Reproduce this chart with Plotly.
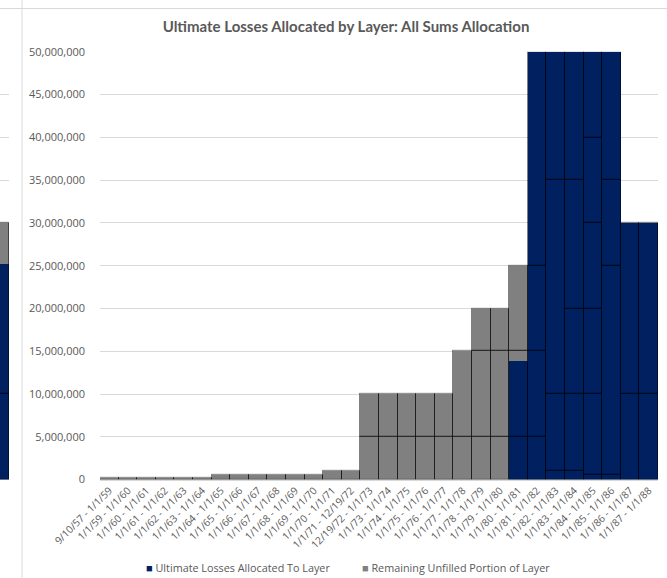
import plotly.graph_objects as go

# Loss periods (x categories)
periods = [
    "9/10/57 - 1/1/59", "1/1/59 - 1/1/60", "1/1/60 - 1/1/61", "1/1/61 - 1/1/62",
    "1/1/62 - 1/1/63", "1/1/63 - 1/1/64", "1/1/64 - 1/1/65", "1/1/65 - 1/1/66",
    "1/1/66 - 1/1/67", "1/1/67 - 1/1/68", "1/1/68 - 1/1/69", "1/1/69 - 1/1/70",
    "1/1/70 - 1/1/71", "1/1/71 - 12/19/72", "12/19/72 - 1/1/73", "1/1/73 - 1/1/74",
    "1/1/74 - 1/1/75", "1/1/75 - 1/1/76", "1/1/76 - 1/1/77", "1/1/77 - 1/1/78",
    "1/1/78 - 1/1/79", "1/1/79 - 1/1/80", "1/1/80 - 1/1/81", "1/1/81 - 1/1/82",
    "1/1/82 - 1/1/83", "1/1/83 - 1/1/84", "1/1/84 - 1/1/85", "1/1/85 - 1/1/86",
    "1/1/86 - 1/1/87", "1/1/87 - 1/1/88",
]

# Upper limit of each layer in the tower, per period
layer_limits = [
    [250_000], [250_000], [250_000], [250_000], [250_000], [250_000],
    [500_000], [500_000], [500_000], [500_000], [500_000], [500_000],
    [1_000_000], [1_000_000],
    [5_000_000, 10_000_000], [5_000_000, 10_000_000], [5_000_000, 10_000_000],
    [5_000_000, 10_000_000], [5_000_000, 10_000_000],
    [5_000_000, 15_000_000],
    [5_000_000, 15_000_000, 20_000_000], [5_000_000, 15_000_000, 20_000_000],
    [5_000_000, 15_000_000, 25_000_000],
    [5_000_000, 15_000_000, 25_000_000, 50_000_000],
    [1_000_000, 10_000_000, 35_000_000, 50_000_000],
    [1_000_000, 10_000_000, 20_000_000, 35_000_000, 50_000_000],
    [500_000, 10_000_000, 20_000_000, 30_000_000, 40_000_000, 50_000_000],
    [500_000, 25_000_000, 35_000_000, 50_000_000],
    [10_000_000, 30_000_000], [10_000_000, 30_000_000],
]

# Ultimate losses allocated to the tower, per period
allocated = [
    0, 0, 0, 0, 0, 0, 0, 0, 0, 0, 0, 0, 0, 0, 0, 0, 0, 0, 0, 0, 0, 0,
    13_900_000,
    50_000_000, 50_000_000, 50_000_000, 50_000_000, 50_000_000,
    30_000_000, 30_000_000,
]

# Last period of the adjacent chart on the sheet
neighbor_periods = ["1/1/87 - 1/1/88"]
neighbor_layer_limits = [[10_000_000, 30_000_000]]
neighbor_allocated = [25_200_000]

y_ticks = list(range(0, 50_000_001, 5_000_000))

legend_names = ["Ultimate Losses Allocated To Layer", "Remaining Unfilled Portion of Layer"]

BLUE = "#002060"
GRAY = "#808080"
EDGE = "rgba(0,0,0,0.5)"
TEXT = "#595959"
GRID = "#d9d9d9"
W, H = 667, 578
H_PLACE = 576.5  # vertical span used to place items in paper space


def px_x(v):
    return v / W


def px_y(v):
    return 1 - v / H_PLACE


def add_tower(fig, labels, limits, alloc, xaxis):
    filled, remaining = [], []
    for lim, a in zip(limits, alloc):
        top = lim[-1]
        f = min(a, top)
        filled.append(f if f > 0 else None)
        remaining.append(top - f if top - f > 0 else None)
    fig.add_bar(x=labels, y=filled, base=[0] * len(labels), marker_color=BLUE,
                marker_line_width=0, xaxis=xaxis, yaxis="y", showlegend=False,
                hoverinfo="skip")
    fig.add_bar(x=labels, y=remaining, base=[f or 0 for f in filled],
                marker_color=GRAY, marker_line_width=0, xaxis=xaxis, yaxis="y",
                showlegend=False, hoverinfo="skip")
    # outline of every layer in the tower
    for k in range(max(len(l) for l in limits)):
        bases, sizes = [], []
        for lim in limits:
            if k < len(lim):
                lo = lim[k - 1] if k > 0 else 0
                bases.append(lo)
                sizes.append(lim[k] - lo)
            else:
                bases.append(0)
                sizes.append(None)
        fig.add_bar(x=labels, y=sizes, base=bases,
                    marker=dict(color="rgba(0,0,0,0)", line=dict(color=EDGE, width=1)),
                    xaxis=xaxis, yaxis="y", showlegend=False, hoverinfo="skip")


fig = go.Figure()
add_tower(fig, periods, layer_limits, allocated, "x")
add_tower(fig, neighbor_periods, neighbor_layer_limits, neighbor_allocated, "x2")

# legend row drawn as text with coloured square keys
legend_keys = [
    dict(x=px_x(144), text=f"<span style='color:{BLUE};font-size:11px'>■</span> {legend_names[0]}"),
    dict(x=px_x(360), text=f"<span style='color:{GRAY};font-size:11px'>■</span> {legend_names[1]}"),
]
annotations = [
    dict(xref="paper", yref="paper", x=k["x"], y=px_y(566), xanchor="left",
         yanchor="middle", text=k["text"], showarrow=False,
         font=dict(family="Open Sans", size=10.8, color=TEXT))
    for k in legend_keys
]

fig.update_layout(
    width=W, height=H,
    margin=dict(l=0, r=0, t=0, b=0),
    paper_bgcolor="white", plot_bgcolor="white",
    font=dict(family="Open Sans", color=TEXT, size=11),
    barmode="overlay", bargap=0,
    showlegend=False,
    title=dict(text="<b>Ultimate Losses Allocated by Layer: All Sums Allocation</b>",
               x=px_x(346), y=px_y(27), xref="paper", yref="paper",
               xanchor="center", yanchor="middle",
               font=dict(family="Lato", size=15, color=TEXT)),
    xaxis=dict(domain=[px_x(100), px_x(658)], anchor="y", type="category",
               categoryorder="array", categoryarray=periods,
               range=[-0.5, len(periods) - 0.5],
               tickangle=-45, tickfont=dict(size=10.2, color=TEXT),
               showgrid=False, zeroline=False, showline=True, linecolor=GRID,
               ticks="", automargin=False, fixedrange=True),
    xaxis2=dict(domain=[0, px_x(9)], anchor="y", type="category",
                range=[-0.5, 0.5], showticklabels=False, showgrid=False,
                zeroline=False, showline=False, ticks="", automargin=False),
    yaxis=dict(domain=[px_y(478.3), px_y(51.7)], anchor="x",
               range=[0, 50_000_000], tickvals=y_ticks, tickformat=",d",
               tickfont=dict(size=11, color=TEXT), showgrid=True, gridcolor=GRID,
               gridwidth=1, zeroline=False, showline=False, ticks="",
               ticklabelstandoff=14, automargin=False),
    annotations=annotations,
    shapes=[
        dict(type="line", xref="paper", yref="paper", x0=px_x(22), x1=px_x(22),
             y0=0, y1=1, line=dict(color=GRID, width=1)),
        dict(type="line", xref="paper", yref="paper", x0=0, x1=1,
             y0=px_y(8.5), y1=px_y(8.5), line=dict(color=GRID, width=1)),
    ],
)

fig.write_html("out.html")
